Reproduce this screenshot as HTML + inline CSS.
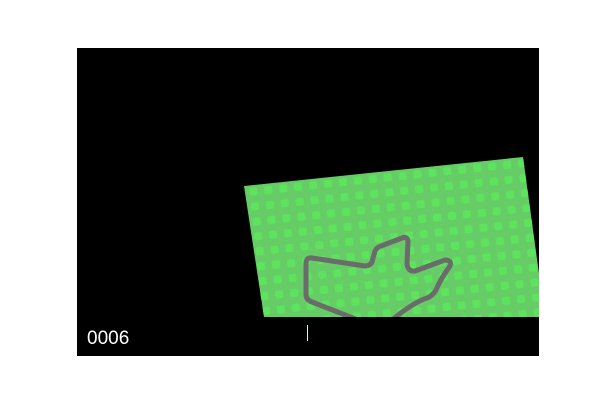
<!DOCTYPE html>
<html><head><style>
body{margin:0;background:#fff;width:600px;height:400px;overflow:hidden;position:relative;font-family:"Liberation Sans",sans-serif}
#scene{position:absolute;left:0;top:0}
</style></head><body>
<svg id="scene" width="600" height="400">
<defs>
<pattern id="dots" patternUnits="userSpaceOnUse" width="15" height="15" patternTransform="rotate(-6)">
<rect x="3" y="3" width="8" height="8" rx="2" fill="#5ee35e"/>
</pattern>
<clipPath id="vp"><rect x="77" y="48" width="462" height="269"/></clipPath>
</defs>
<rect x="77" y="48" width="462" height="308" fill="#000"/>
<g clip-path="url(#vp)">
<polygon points="244,186 523,157 545,317 264,317" fill="#66cc66"/>
<polygon points="244,186 523,157 545,317 264,317" fill="url(#dots)"/>
<path d="M358,320 L312,302 Q306,300 306,294 L306,264 Q306,257 312,258 L365,266 Q372,266 373,258 L375,251 Q377,247 381,246 L402,238 Q407,236 408,241 L407,264 Q408,272 415,271 L445,260 Q452,260 450,266 Q440,280 436,290 Q432,297 424,299 Q410,305 392,320" fill="none" stroke="#6b6b6b" stroke-width="5" stroke-linejoin="round"/>
</g>
<line x1="307.5" y1="325" x2="307.5" y2="341" stroke="#cfe" stroke-width="1"/>
<text x="87" y="344" fill="#fff" font-size="19" font-family="Liberation Sans, sans-serif">0006</text>
</svg>
</body></html>
